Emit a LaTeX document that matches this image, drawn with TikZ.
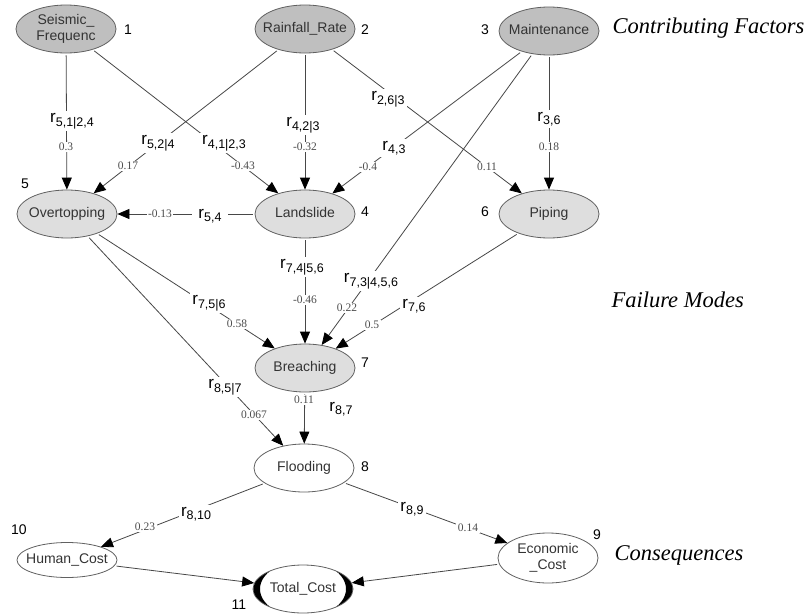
\documentclass[tikz,border=0pt]{standalone}
\usepackage{fontspec}
\setmainfont{Liberation Serif}
\setsansfont{Liberation Sans}
\usetikzlibrary{shapes.geometric,arrows.meta}
% partial-correlation symbol: large r with a lowered index
\newcommand\rlab[1]{{\fontsize{17}{17}\selectfont r}\raisebox{-3.5pt}{\fontsize{12.5}{12.5}\selectfont #1}}
% node caption of zero width, so that the ellipse keeps its fixed size
\newcommand\vname[1]{\makebox[0pt]{\begin{tabular}{@{}c@{}}#1\end{tabular}}}
\begin{document}
\begin{tikzpicture}[x=1pt,y=-1pt,
  var/.style={ellipse, draw=black!62, line width=0.8pt, minimum width=100pt,
    minimum height=48pt, inner sep=0pt,
    font=\sffamily\fontsize{14}{16.5}\selectfont, text=black!80},
  factor/.style={var, fill=black!25},
  mode/.style={var, fill=black!13},
  outcome/.style={var, fill=white},
  idx/.style={font=\sffamily\fontsize{14}{14}\selectfont},
  link/.style={draw=black!72, line width=0.8pt,
    -{Triangle[length=12pt,width=10pt,color=black]}, shorten <=2pt},
  coef/.style={fill=white, inner sep=2pt, font=\sffamily},
  val/.style={fill=white, inner sep=1.5pt,
    font=\rmfamily\fontsize{11.5}{11.5}\selectfont, text=black!70},
  tier/.style={font=\rmfamily\itshape\fontsize{22.5}{22.5}\selectfont, anchor=base west}
]
\fill[white] (0,0) rectangle (812,616);
\useasboundingbox (0,0) rectangle (812,616);

% contributing factors
\node[factor] (s1) at (66,29)  {\vname{Seismic\_\\Frequenc}};
\node[factor] (s2) at (305,29) {\vname{Rainfall\_Rate}};
\node[factor] (s3) at (549,31) {\vname{Maintenance}};
% failure modes
\node[mode] (n5) at (67,214)  {\vname{Overtopping}};
\node[mode] (n4) at (305,214) {\vname{Landslide}};
\node[mode] (n6) at (549,214) {\vname{Piping}};
\node[mode] (n7) at (305,368) {\vname{Breaching}};
% consequences
\node[outcome] (n8)  at (304,468) {\vname{Flooding}};
\node[outcome, minimum height=35pt] (n10) at (67,560) {\vname{Human\_Cost}};
\node[outcome, minimum height=50pt] (n9)  at (548,558) {\vname{Economic\\\_Cost}};
\node[outcome] (n11) at (303,589) {\vname{Total\_Cost}};
% dark side crescents of the sink node
\begin{scope}
  \clip (n11.center) ellipse [x radius=49.6pt, y radius=23.6pt];
  \fill[black, even odd rule]
    (n11.center) ++(-60,-30) rectangle ++(120,60)
    (n11.center) ellipse [x radius=43pt, y radius=28pt];
\end{scope}

% node indices
\node[idx] (i1)  at (128,30)  {1};
\node[idx] (i2)  at (365,30)  {2};
\node[idx] (i3)  at (485,30)  {3};
\node[idx] (i4)  at (365,212) {4};
\node[idx] (i5)  at (25,184)  {5};
\node[idx] (i6)  at (485,212) {6};
\node[idx] (i7)  at (365,363) {7};
\node[idx] (i8)  at (365,467) {8};
\node[idx] (i9)  at (597,535) {9};
\node[idx] (i10) at (19,530)  {10};
\node[idx] (i11) at (239,605) {11};

% tier captions
\node[tier] (t1) at (609,33)  {Contributing Factors};
\node[tier] (t2) at (608,307) {Failure Modes};
\node[tier] (t3) at (611,560) {Consequences};

% directed links
\draw[link] (s1) -- (n5);
\draw[link] (s1) -- (n4);
\draw[link] (s2) -- (n5);
\draw[link] (s2) -- (n4);
\draw[link] (s2) -- (n6);
\draw[link] (s3) -- (n4);
\draw[link] (s3) -- (n6);
\draw[link] (s3) -- (n7);
\draw[link] (n4) -- (n5);
\draw[link] (n4) -- (n7);
\draw[link] (n6) -- (n7);
\draw[link] (n5) -- (n7);
\draw[link] (n5) -- (n8);
\draw[link] (n7) -- (n8);
\draw[link] (n8) -- (n10);
\draw[link] (n8) -- (n9);
\draw[link] (n10) -- (n11);
\draw[link] (n9) -- (n11);

% link labels: symbol and value
\node[coef] (c51) at (72,121)  {\rlab{5,1|2,4}};
\node[val]  (v51) at (66,147)  {0.3};
\node[coef] (c52) at (158,143) {\rlab{5,2|4}};
\node[val]  (v52) at (128,166) {0.17};
\node[coef] (c41) at (224,143) {\rlab{4,1|2,3}};
\node[val]  (v41) at (243,166) {-0.43};
\node[coef] (c42) at (303,125) {\rlab{4,2|3}};
\node[val]  (v42) at (305,147) {-0.32};
\node[coef] (c26) at (388,99)  {\rlab{2,6|3}};
\node[val]  (v26) at (487,167) {0.11};
\node[coef] (c43) at (394,148) {\rlab{4,3}};
\node[val]  (v43) at (368,167) {-0.4};
\node[coef] (c36) at (549,119) {\rlab{3,6}};
\node[val]  (v36) at (549,147) {0.18};
\node[coef, inner xsep=6pt] (c54) at (210,216) {\rlab{5,4}};
\node[val]  (v54) at (160,214) {-0.13};
\node[coef] (c74) at (302,267) {\rlab{7,4|5,6}};
\node[val]  (v74) at (305,300) {-0.46};
\node[coef] (c73) at (371,281) {\rlab{7,3|4,5,6}};
\node[val]  (v73) at (347,308) {0.22};
\node[coef] (c76) at (414,306) {\rlab{7,6}};
\node[val]  (v76) at (372,325) {0.5};
\node[coef] (c75) at (209,303) {\rlab{7,5|6}};
\node[val]  (v75) at (237,324) {0.58};
\node[coef] (c85) at (225,387) {\rlab{8,5|7}};
\node[val]  (v85) at (254,415) {0.067};
\node[val]  (v87) at (304,400) {0.11};
\node[coef] (c87) at (341,409) {\rlab{8,7}};
\node[coef] (c810) at (196,514) {\rlab{8,10}};
\node[val]  (v810) at (145,527) {0.23};
\node[coef] (c89) at (412,509) {\rlab{8,9}};
\node[val]  (v89) at (468,528) {0.14};
\end{tikzpicture}
\end{document}
